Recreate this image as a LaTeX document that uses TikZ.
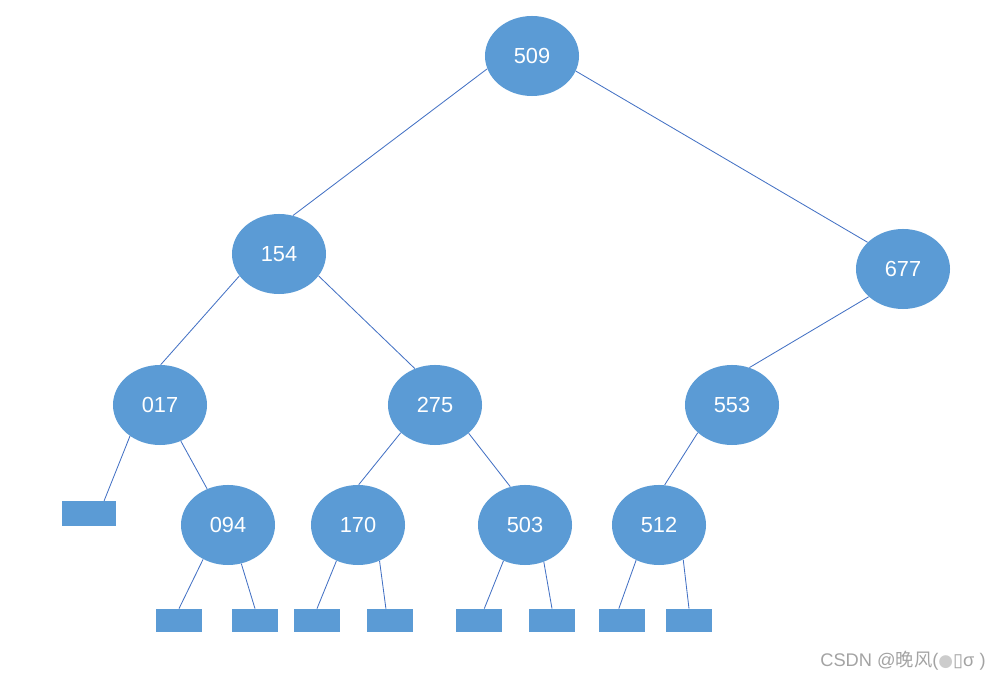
\documentclass[tikz,border=0pt]{standalone}
\usepackage{fontspec}
\setmainfont{Liberation Sans}
\newfontfamily\cjkfont{Noto Sans CJK SC}
\newfontfamily\symfont{DejaVu Sans}
\usepackage{xcolor}
\usetikzlibrary{shapes.geometric}

\definecolor{keyfill}{HTML}{5B9BD5}
\definecolor{edgeblue}{HTML}{4472C4}
\definecolor{markgray}{HTML}{A3A3A3}

\begin{document}
\begin{tikzpicture}[
  x=0.025cm, y=-0.025cm,
  key/.style={ellipse, fill=keyfill, inner sep=0pt, minimum width=2.35cm, minimum height=2cm,
    text=white, font=\fontsize{15.5}{18}\selectfont},
  leaf/.style={rectangle, fill=keyfill, inner sep=0pt, minimum width=1.15cm, minimum height=0.58cm},
  bigleaf/.style={leaf, minimum width=1.35cm, minimum height=0.62cm},
  edge/.style={draw=edgeblue, line width=0.6pt}
]
\useasboundingbox (0,0) rectangle (1002,681);
\node[key] (k509) at (532,56) {509};
\node[key] (k154) at (279,254) {154};
\node[key] (k677) at (903,269) {677};
\node[key] (k017) at (160,405) {017};
\node[key] (k275) at (435,405) {275};
\node[key] (k553) at (732,405) {553};
\node[key] (k094) at (228,525) {094};
\node[key] (k170) at (358,525) {170};
\node[key] (k503) at (525,525) {503};
\node[key] (k512) at (659,525) {512};
\node[bigleaf] (e017) at (89,513.5) {};
\node[leaf] (e094a) at (179,620.5) {};
\node[leaf] (e094b) at (255,620.5) {};
\node[leaf] (e170a) at (317,620.5) {};
\node[leaf] (e170b) at (390,620.5) {};
\node[leaf] (e503a) at (479,620.5) {};
\node[leaf] (e503b) at (552,620.5) {};
\node[leaf] (e512a) at (622,620.5) {};
\node[leaf] (e512b) at (689,620.5) {};
\draw[edge] (k509.196) -- (k154.70);
\draw[edge] (k509.341) -- (k677.143);
\draw[edge] (k154.209) -- (k017.89);
\draw[edge] (k154.331) -- (k275.119);
\draw[edge] (k677.219) -- (k553.65);
\draw[edge] (k017.226) -- (e017.40);
\draw[edge] (k017.300) -- (k094.120);
\draw[edge] (k094.234) -- (e094a.north);
\draw[edge] (k094.289) -- (e094b.north);
\draw[edge] (k275.219) -- (k170.89);
\draw[edge] (k275.320) -- (k503.111);
\draw[edge] (k170.239) -- (e170a.north);
\draw[edge] (k170.301) -- (e170b.109);
\draw[edge] (k503.239) -- (e503a.66);
\draw[edge] (k503.297) -- (e503b.north);
\draw[edge] (k553.219) -- (k512.82);
\draw[edge] (k512.237) -- (e512a.105);
\draw[edge] (k512.305) -- (e512b.north);
\node[text=markgray, font=\fontsize{13}{15}\selectfont, inner sep=0pt] (mark) at (903,661)
  {CSDN @{\cjkfont 晚风}({\symfont\color{black!20}\large●}{\symfont▯}σ )};
\end{tikzpicture}
\end{document}
